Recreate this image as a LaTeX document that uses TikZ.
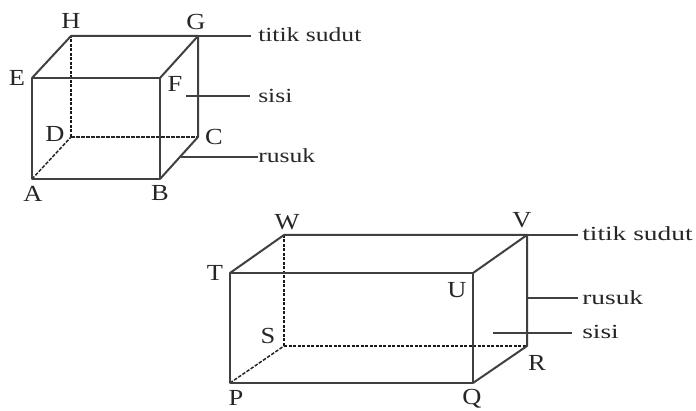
\documentclass[tikz,border=0pt]{standalone}
\usepackage{fontspec}
\setmainfont{Liberation Serif}
\usetikzlibrary{positioning}

\tikzset{
    edge/.style={draw=black!75, line width=2pt, line join=round},
    hidden/.style={draw=black!90, line width=2.2pt, dash pattern=on 3pt off 1.5pt},
    hiddenthin/.style={draw=black!85, line width=1.5pt, dash pattern=on 3.5pt off 1.5pt},
    leader/.style={draw=black!75, line width=1.8pt},
    vertex/.style={font=\fontsize{23}{23}\selectfont, xscale=1.15, inner sep=0pt, text=black!85},
    term/.style={font=\fontsize{20}{20}\selectfont, xscale=1.28, inner sep=0pt, anchor=west, text=black!85},
    boxterm/.style={term, xscale=1.07}
}

\begin{document}
\begin{tikzpicture}[x=1pt, y=-1pt]
    \useasboundingbox (0,0) rectangle (696,411);

    \coordinate (A) at (32,179);
    \coordinate (B) at (160,179);
    \coordinate (C) at (198,137);
    \coordinate (D) at (71,137);
    \coordinate (E) at (32,78);
    \coordinate (F) at (160,78);
    \coordinate (G) at (198,36);
    \coordinate (H) at (71,36);

    \draw[hiddenthin] (A) -- (D);
    \draw[hiddenthin] (D) -- (C);
    \draw[hidden] (D) -- (H);
    \draw[edge] (A) -- (B) -- (F) -- (E) -- cycle;
    \draw[edge] (E) -- (H) -- (G) -- (F);
    \draw[edge] (B) -- (C) -- (G);

    \node[vertex] (labelH) at (71,21) {H};
    \node[vertex] (labelG) at (196,22) {G};
    \node[vertex] (labelE) at (17,78) {E};
    \node[vertex] (labelF) at (175,84) {F};
    \node[vertex] (labelD) at (55,134) {D};
    \node[vertex] (labelC) at (214,137) {C};
    \node[vertex] (labelA) at (33,194) {A};
    \node[vertex] (labelB) at (160,193) {B};

    \node[term] (cubeCorner) at (258,35) {titik sudut};
    \node[term] (cubeFace) at (258,96) {sisi};
    \node[term] (cubeEdge) at (258,156) {rusuk};

    \coordinate (cubeFaceEnd) at (186,96);
    \coordinate (cubeEdgeEnd) at (181,157);
    \draw[leader] (G) -- ([xshift=-7pt]cubeCorner.west |- G);
    \draw[leader] (cubeFaceEnd) -- ([xshift=-8pt]cubeFace.west |- cubeFaceEnd);
    \draw[leader] (cubeEdgeEnd) -- (cubeEdge.west |- cubeEdgeEnd);

    \coordinate (P) at (230,383);
    \coordinate (Q) at (473,383);
    \coordinate (R) at (527,346);
    \coordinate (S) at (284,346);
    \coordinate (T) at (230,273);
    \coordinate (U) at (473,273);
    \coordinate (V) at (527,235);
    \coordinate (W) at (284,235);

    \draw[hiddenthin] (P) -- (S);
    \draw[hidden] (S) -- (R);
    \draw[hidden] (S) -- (W);
    \draw[edge] (P) -- (Q) -- (U) -- (T) -- cycle;
    \draw[edge] (T) -- (W) -- (V) -- (U);
    \draw[edge] (Q) -- (R) -- (V);

    \node[vertex] (labelW) at (287,222) {W};
    \node[vertex] (labelV) at (522,220) {V};
    \node[vertex] (labelT) at (215,273) {T};
    \node[vertex] (labelU) at (457,290) {U};
    \node[vertex] (labelS) at (268,336) {S};
    \node[vertex] (labelR) at (537,363) {R};
    \node[vertex] (labelP) at (236,398) {P};
    \node[vertex] (labelQ) at (472,399) {Q};

    \node[boxterm] (boxCorner) at (582,234) {titik sudut};
    \node[boxterm] (boxEdge) at (582,298) {rusuk};
    \node[boxterm] (boxFace) at (582,332) {sisi};

    \coordinate (boxEdgeEnd) at (528,298);
    \coordinate (boxFaceEnd) at (493,333);
    \draw[leader] (V) -- ([xshift=-4pt]boxCorner.west |- V);
    \draw[leader] (boxEdgeEnd) -- ([xshift=-4pt]boxEdge.west |- boxEdgeEnd);
    \draw[leader] (boxFaceEnd) -- ([xshift=-10pt]boxFace.west |- boxFaceEnd);
\end{tikzpicture}
\end{document}
